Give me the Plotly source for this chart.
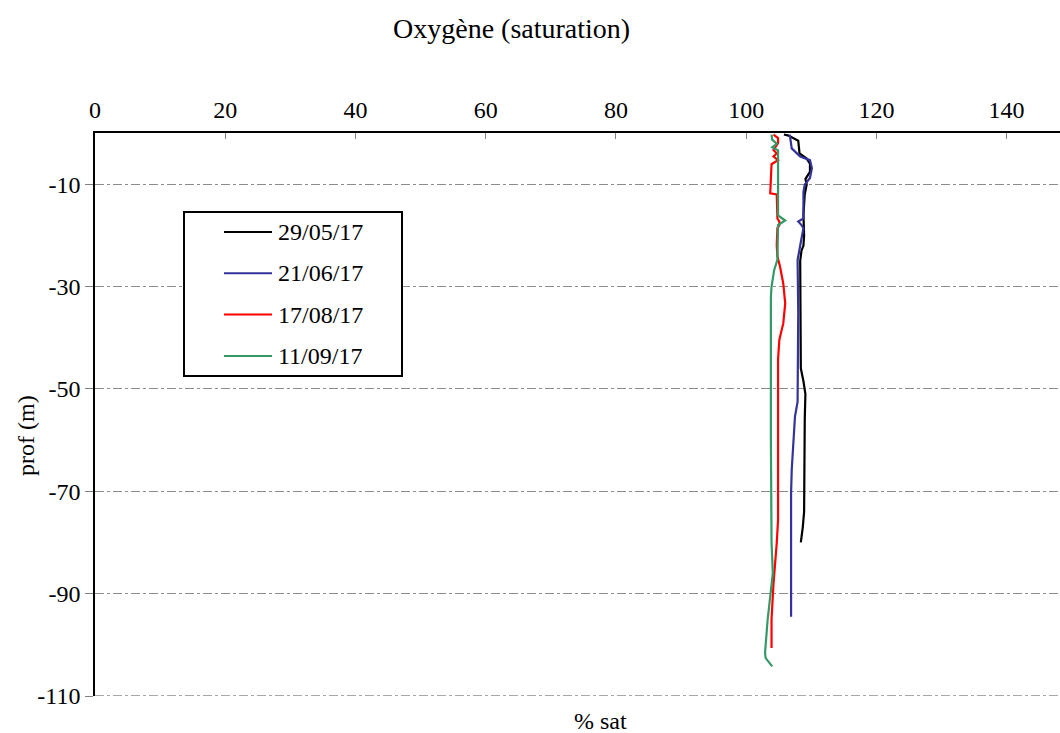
import plotly.graph_objects as go

# ---- data ----
series_names = ["29/05/17", "21/06/17", "17/08/17", "11/09/17"]
series_colors = ["#000000", "#333399", "#ff0000", "#339966"]

depth_0529 = [-0.3, -0.5, -1.5, -4.0, -5.0, -6.0, -7.6, -9.0, -10.0, -12.0, -16.0, -20.0,
              -22.0, -23.0, -25.0, -35.0, -46.0, -48.5, -51.0, -56.0, -66.0, -71.0, -74.0,
              -77.0, -80.0]
sat_0529 = [105.8, 106.5, 108.0, 108.2, 109.3, 109.8, 109.8, 109.1, 109.3, 109.0, 108.8, 108.9,
            108.8, 108.5, 108.3, 108.3, 108.4, 108.8, 109.1, 109.0, 109.0, 109.0, 108.9,
            108.7, 108.4]

depth_0621 = [-0.3, -3.0, -4.6, -5.3, -6.9, -8.8, -10.1, -11.5, -16.7, -17.3, -18.0, -18.6,
              -20.6, -22.9, -24.8, -35.0, -46.3, -52.5, -55.4, -65.8, -70.4, -80.0, -94.5]
sat_0621 = [106.7, 107.0, 108.3, 109.8, 110.1, 109.8, 109.0, 108.8, 108.8, 108.0, 108.5, 108.8,
            108.5, 108.2, 107.9, 108.0, 108.0, 107.9, 107.5, 107.0, 106.9, 106.9, 106.9]

depth_0817 = [-0.3, -1.0, -2.0, -3.3, -4.0, -4.6, -5.3, -6.1, -11.8, -12.0, -16.7, -17.3,
              -18.0, -18.6, -22.0, -24.1, -26.1, -29.4, -33.3, -37.2, -40.4, -44.3, -60.0,
              -75.6, -80.1, -84.0, -88.0, -95.0, -100.6]
sat_0817 = [104.2, 104.9, 104.9, 104.2, 104.7, 104.2, 104.9, 103.9, 103.7, 104.7, 104.8, 105.1,
            105.1, 104.8, 104.7, 104.8, 105.2, 105.7, 106.0, 105.7, 105.1, 104.9, 104.9,
            104.9, 104.7, 104.4, 104.2, 103.9, 103.9]

depth_0911 = [-0.3, -1.3, -2.1, -2.8, -3.4, -16.1, -17.1, -18.0, -24.8, -26.8, -30.0, -32.0,
              -60.0, -80.0, -86.0, -90.6, -95.1, -101.6, -102.6, -104.2]
sat_0911 = [103.9, 104.0, 104.7, 104.0, 104.9, 104.9, 106.0, 104.9, 104.8, 104.3, 103.9, 103.8,
            103.8, 103.9, 104.1, 103.7, 103.3, 102.9, 103.0, 104.0]

x_ticks = [0, 20, 40, 60, 80, 100, 120, 140]
y_ticks = [-110, -90, -70, -50, -30, -10]
y_tick_labels = ["-110", "-90", "-70", "-50", "-30", "-10"]

series_x = [sat_0529, sat_0621, sat_0817, sat_0911]
series_y = [depth_0529, depth_0621, depth_0817, depth_0911]

FONT = "Times New Roman, Liberation Serif, serif"
FS = 24
W, H = 1060, 733
ML, MR, MT, MB = 95, 0, 133, 37

fig = go.Figure()
for name, color, xs, ys in zip(series_names, series_colors, series_x, series_y):
    fig.add_trace(go.Scatter(x=xs, y=ys, mode="lines", name=name,
                             line=dict(color=color, width=2.2), showlegend=False))


def px2paper(px, py):
    return (px - ML) / (W - ML - MR), (H - MB - py) / (H - MT - MB)


shapes = []
annotations = []

# bottom gridline at the lowest tick (plotly skips it at the plot edge)
shapes.append(dict(type="line", xref="paper", yref="y", x0=0, x1=1,
                   y0=y_ticks[0], y1=y_ticks[0],
                   line=dict(color="#8c8c8c", width=1.5, dash="dashdot")))

# legend box (drawn manually to match the reference layout)
bx0, by0 = px2paper(184, 212)
bx1, by1 = px2paper(402, 376)
shapes.append(dict(type="rect", xref="paper", yref="paper", x0=bx0, x1=bx1, y0=by1, y1=by0,
                   line=dict(color="black", width=2), fillcolor="white", layer="above"))
for i, (name, color) in enumerate(zip(series_names, series_colors)):
    ypix = 232 + i * 41.3
    lx0, ly = px2paper(224, ypix)
    lx1, _ = px2paper(272, ypix)
    tx, _ = px2paper(276, ypix)
    shapes.append(dict(type="line", xref="paper", yref="paper", x0=lx0, x1=lx1, y0=ly, y1=ly,
                       line=dict(color=color, width=2), layer="above"))
    annotations.append(dict(text=name, xref="paper", yref="paper", x=tx, y=ly,
                            xanchor="left", yanchor="middle", showarrow=False,
                            font=dict(family=FONT, size=FS, color="black")))

# title and axis titles
tx, ty = px2paper(511, 29)
annotations.append(dict(text="Oxygène (saturation)", xref="paper", yref="paper", x=tx, y=ty,
                        xanchor="center", yanchor="middle", showarrow=False,
                        font=dict(family=FONT, size=28, color="black")))
tx, ty = px2paper(600, 721)
annotations.append(dict(text="% sat", xref="paper", yref="paper", x=tx, y=ty,
                        xanchor="center", yanchor="middle", showarrow=False,
                        font=dict(family=FONT, size=FS, color="black")))
tx, ty = px2paper(26, 436)
annotations.append(dict(text="prof (m)", xref="paper", yref="paper", x=tx, y=ty,
                        xanchor="center", yanchor="middle", showarrow=False, textangle=-90,
                        font=dict(family=FONT, size=FS, color="black")))

fig.update_layout(
    width=W, height=H,
    margin=dict(l=ML, r=MR, t=MT, b=MB),
    paper_bgcolor="white", plot_bgcolor="white",
    font=dict(family=FONT, size=FS, color="black"),
    shapes=shapes, annotations=annotations,
    showlegend=False,
    xaxis=dict(side="top", range=[0, 148.2], tickvals=x_ticks, ticks="inside", ticklen=6,
               tickcolor="#808080", showline=True, linecolor="black", linewidth=1.5,
               showgrid=False, zeroline=False, ticklabelstandoff=4,
               tickfont=dict(family=FONT, size=FS)),
    yaxis=dict(range=[-110, 0], tickvals=y_ticks, ticktext=y_tick_labels,
               ticks="outside", ticklen=8,
               tickcolor="#808080", showline=True, linecolor="black", linewidth=1.5,
               showgrid=True, gridcolor="#8c8c8c", gridwidth=1, griddash="dashdot",
               zeroline=False, tickfont=dict(family=FONT, size=FS)),
)

fig.write_html("out.html")
